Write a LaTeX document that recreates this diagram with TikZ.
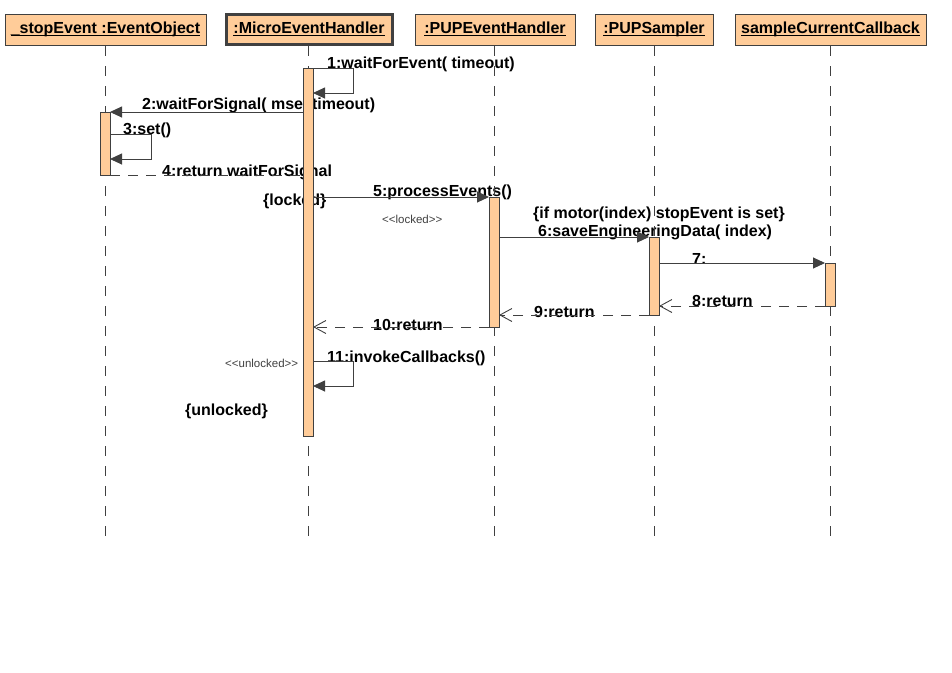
\documentclass[tikz,border=0pt]{standalone}
\usepackage{fontspec}
\setmainfont{Liberation Sans}
\usetikzlibrary{arrows.meta}
\definecolor{peach}{HTML}{FFCC99}
\definecolor{ink}{HTML}{404040}
\newcommand\myul[1]{\setbox0\hbox{#1}\rlap{\rule[-2.6pt]{\wd0}{1.2pt}}\box0}
\tikzset{
  head/.style={draw=ink, line width=1pt, fill=peach, minimum height=31pt, inner sep=0pt, outer sep=0pt,
    text height=12pt, text depth=4pt, font=\fontsize{16}{19}\selectfont\bfseries},
  headmain/.style={head, line width=3pt},
  lifeline/.style={draw=ink, line width=0.9pt, dash pattern=on 10pt off 10pt},
  actbar/.style={draw=ink, line width=0.9pt, fill=peach, minimum width=10pt, inner sep=0pt, outer sep=0pt},
  msg/.style={draw=ink, line width=0.9pt, -{Triangle[length=12pt,width=11pt]}, ink},
  ret/.style={draw=ink, line width=0.9pt, dash pattern=on 10pt off 8pt, -{Straight Barb[length=12pt,width=13pt]}},
  retplain/.style={draw=ink, line width=0.9pt, dash pattern=on 10pt off 8pt},
  lbl/.style={anchor=base west, inner sep=0pt, font=\fontsize{16}{19}\selectfont\bfseries},
  stereo/.style={anchor=base west, inner sep=0pt, text=ink, font=\fontsize{11.5}{13}\selectfont}
}
\begin{document}
\begin{tikzpicture}[x=1pt,y=-1pt]
\useasboundingbox (0,0) rectangle (952,672);
\fill[white] (0,0) rectangle (952,672);

% labels (drawn first: bars and lifelines overlay them)
\node[lbl] (l1) at (327,68.5) {1:waitForEvent( timeout)};
\node[lbl] (l2) at (142,109.5) {2:waitForSignal( msectimeout)};
\node[lbl] (l3) at (123,134.5) {3:set()};
\node[lbl] (l4) at (162,176) {4:return waitForSignal};
\node[lbl] (l5) at (373,196) {5:processEvents()};
\node[lbl] (lk) at (263,205.5) {\{locked\}};
\node[stereo] (sk) at (382,223) {{<}{<}locked{>}{>}};
\node[lbl] (l6a) at (533,218) {\{if motor(index) stopEvent is set\}};
\node[lbl] (l6b) at (538,236.5) {6:saveEngineeringData( index)};
\node[lbl] (l7) at (692,264) {7:};
\node[lbl] (l8) at (692,306) {8:return};
\node[lbl] (l9) at (534,317) {9:return};
\node[lbl] (l10) at (373,330) {10:return};
\node[lbl] (l11) at (327,362) {11:invokeCallbacks()};
\node[stereo] (su) at (225,367) {{<}{<}unlocked{>}{>}};
\node[lbl] (lu) at (185,415) {\{unlocked\}};

% header boxes
\node[head, minimum width=201pt] (h1) at (105.5,29.5) {\myul{\_stopEvent :EventObject}};
\node[headmain, minimum width=166pt, minimum height=30pt] (h2) at (309,29.5) {\myul{:MicroEventHandler}};
\node[head, minimum width=160pt] (h3) at (495,29.5) {\myul{:PUPEventHandler}};
\node[head, minimum width=118pt] (h4) at (654,29.5) {\myul{:PUPSampler}};
\node[head, minimum width=191pt] (h5) at (830.5,29.5) {\myul{sampleCurrentCallback}};

% lifelines
\coordinate (t1) at (105,46); \coordinate (e1) at (105,536);
\coordinate (t2) at (308,46); \coordinate (e2) at (308,536);
\coordinate (t3) at (494,46); \coordinate (e3) at (494,536);
\coordinate (t4) at (654,46); \coordinate (e4) at (654,536);
\coordinate (t5) at (830,46); \coordinate (e5) at (830,536);
\draw[lifeline] (t1) -- (e1);
\draw[lifeline] (t2) -- (e2);
\draw[lifeline] (t3) -- (e3);
\draw[lifeline] (t4) -- (e4);
\draw[lifeline] (t5) -- (e5);

% activation bars
\node[actbar, minimum height=368pt] (mainbar) at (308,252) {};
\node[actbar, minimum height=63pt] (stopbar) at (105,143.5) {};
\node[actbar, minimum height=130pt] (pehbar) at (494,262) {};
\node[actbar, minimum height=78pt] (sampbar) at (654,276) {};
\node[actbar, minimum height=43pt] (cbbar) at (830,284.5) {};

% messages
\coordinate (c1a) at (353,68); \coordinate (c1b) at (353,93);
\draw[msg] (mainbar.north east) -- (c1a) -- (c1b) -- ([yshift=-25pt]mainbar.north east);
\draw[msg] ([yshift=-44pt]mainbar.north west) -- (stopbar.north east);
\coordinate (c3a) at (151,134); \coordinate (c3b) at (151,159);
\draw[msg] ([yshift=-22pt]stopbar.north east) -- (c3a) -- (c3b) -- ([yshift=-47pt]stopbar.north east);
\draw[retplain] (stopbar.south east) -- ([yshift=-107pt]mainbar.north west);
\draw[msg] ([yshift=-129pt]mainbar.north east) -- (pehbar.north west);
\draw[msg] ([yshift=-40pt]pehbar.north east) -- (sampbar.north west);
\draw[msg] ([yshift=-26pt]sampbar.north east) -- (cbbar.north west);
\draw[ret] (cbbar.south west) -- ([yshift=-69pt]sampbar.north east);
\draw[ret] (sampbar.south west) -- ([yshift=-118pt]pehbar.north east);
\draw[ret] (pehbar.south west) -- ([yshift=-259pt]mainbar.north east);
\coordinate (c11a) at (353,361); \coordinate (c11b) at (353,386);
\draw[msg] ([yshift=-293pt]mainbar.north east) -- (c11a) -- (c11b) -- ([yshift=-318pt]mainbar.north east);
\end{tikzpicture}
\end{document}
